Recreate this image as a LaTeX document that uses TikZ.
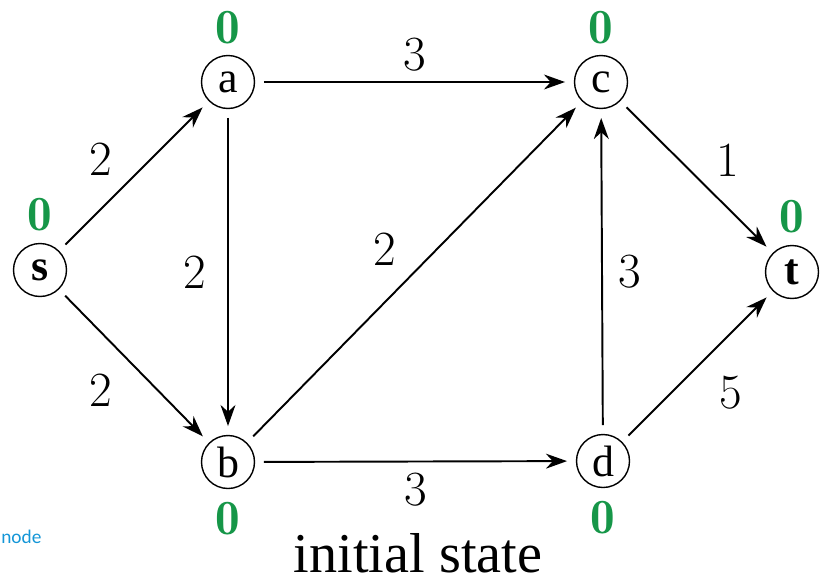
\documentclass[tikz,border=0pt]{standalone}
\usepackage{fontspec}
\setmainfont{Liberation Serif}
\newfontfamily\notefont{Carlito}
\newcommand\digitfont{\fontfamily{lmr}\selectfont}
\usetikzlibrary{arrows.meta,positioning}
\definecolor{cgreen}{RGB}{22,150,72}
\definecolor{cblue}{RGB}{20,150,215}
\tikzset{
  vert/.style={circle, draw, line width=0.8pt,
    minimum size=1.06cm, inner sep=0pt,
    font=\fontsize{25}{25}\selectfont},
  dist/.style={inner sep=0pt, text=cgreen,
    font=\digitfont\fontsize{28}{28}\selectfont\bfseries},
  wt/.style={inner sep=0pt, font=\digitfont\fontsize{28}{28}\selectfont},
  arr/.style={-{Stealth[length=12pt, width=8.5pt]}, line width=1.1pt,
    shorten <=5pt, shorten >=5pt}
}

\begin{document}
\begin{tikzpicture}[x=0.02cm, y=-0.02cm]
    \useasboundingbox (0,0) rectangle (820,582);

    \node[vert] (s) at (40,270)  {\textbf{s}};
    \node[vert] (a) at (228,82)  {a};
    \node[vert] (b) at (228,462) {b};
    \node[vert] (c) at (601,82)  {c};
    \node[vert] (d) at (603,461) {d};
    \node[vert] (t) at (792,272) {\textbf{t}};

    \node[dist, above=0.22cm of s] (ds) {0};
    \node[dist, above=0.2cm of a]  (da) {0};
    \node[dist, above=0.2cm of c]  (dc) {0};
    \node[dist, above=0.22cm of t] (dt) {0};
    \node[dist, below=0.26cm of b] (db) {0};
    \node[dist, below=0.26cm of d] (dd) {0};

    \draw[arr] (s) -- node[wt, above left=0pt and 12pt] {2} (a);
    \draw[arr] (s) -- node[wt, below left=4pt and 12pt] {2} (b);
    \draw[arr] (a) -- node[wt, above=5.5pt] {3} (c);
    \draw[arr] (a) -- node[wt, left=12pt] {2} (b);
    \draw[arr] (b) -- node[wt, above left=3pt and 10pt] {2} (c);
    \draw[arr] (b) -- node[wt, below=6pt] {3} (d);
    \draw[arr] (d) -- node[wt, right=9pt] {3} (c);
    \draw[arr] (c) -- node[wt, above right=0pt and 11pt] {1} (t);
    \draw[arr] (d) -- node[wt, below right=5pt and 12pt] {5} (t);

    \node[inner sep=0pt, font=\fontsize{32}{32}\selectfont] (cap) at (418,553) {initial state};
    \node[anchor=west, inner sep=0pt, text=cblue,
      font=\notefont\fontsize{11}{11}\selectfont] (note) at (1,537) {node};
\end{tikzpicture}
\end{document}
